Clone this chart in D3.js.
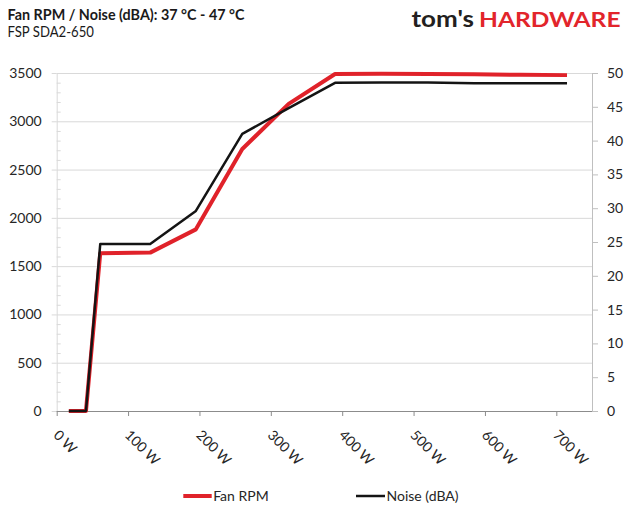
<!DOCTYPE html>
<html>
<head>
<meta charset="utf-8">
<script src="https://cdn.jsdelivr.net/npm/d3@7/dist/d3.min.js"></script>
<style>
  html, body { margin: 0; padding: 0; background: #fff; }
  svg { display: block; }
  text { font-family: Lato, "Open Sans", sans-serif; }
</style>
</head>
<body>
<svg id="chart" width="631" height="511"></svg>
<script>
const title = "Fan RPM / Noise (dBA): 37 °C - 47 °C";
const subtitle = "FSP SDA2-650";
const seriesNames = ["Fan RPM", "Noise (dBA)"];
const loadW = [17, 41, 61, 131, 195, 260, 325, 390, 455, 520, 585, 650, 715];
const fanRPM = [0, 0, 1633, 1640, 1881, 2713, 3180, 3490, 3492, 3490, 3486, 3482, 3478];
const noiseDBA = [0, 0, 24.7, 24.7, 29.6, 41.0, 44.8, 48.55, 48.6, 48.6, 48.5, 48.5, 48.5];
const xTicks = [0, 100, 200, 300, 400, 500, 600, 700];
const xTickLabels = ["0 W", "100 W", "200 W", "300 W", "400 W", "500 W", "600 W", "700 W"];
const yLeftTicks = [0, 500, 1000, 1500, 2000, 2500, 3000, 3500];
const yRightTicks = [0, 5, 10, 15, 20, 25, 30, 35, 40, 45, 50];

const svg = d3.select("#chart");
const L = 56.7, R = 592, T = 73, B = 411;
const x = d3.scaleLinear().domain([0, 750]).range([L, R]);
const yL = d3.scaleLinear().domain([0, 3500]).range([B, T]);
const yR = d3.scaleLinear().domain([0, 50]).range([B, T]);

// gridlines
svg.append("g")
  .attr("transform", `translate(${L},0)`)
  .call(d3.axisLeft(yL).tickValues(yLeftTicks.filter(d => d > 0)).tickSize(-(R - L)).tickFormat(""))
  .call(g => g.select(".domain").remove())
  .call(g => g.selectAll("line").attr("stroke", "#d9d9d9").attr("stroke-width", 1));

// left minor ticks (inside)
svg.append("g")
  .attr("transform", `translate(${L},0)`)
  .call(d3.axisLeft(yL).tickValues(d3.range(100, 3500, 100).filter(d => d % 500 !== 0)).tickSize(-4).tickFormat(""))
  .call(g => g.select(".domain").remove())
  .call(g => g.selectAll("line").attr("stroke", "#d9d9d9"));

// left axis
svg.append("g")
  .attr("transform", `translate(${L},0)`)
  .call(d3.axisLeft(yL).tickValues(yLeftTicks).tickSize(5).tickSizeOuter(0).tickPadding(10).tickFormat(d3.format("d")))
  .call(g => g.select(".domain").attr("stroke", "#d9d9d9"))
  .call(g => g.selectAll("line").attr("stroke", "#d9d9d9"))
  .call(g => g.selectAll("text").attr("font-size", 14).attr("fill", "#262626").attr("font-family", "Lato, sans-serif"));

// right axis
svg.append("g")
  .attr("transform", `translate(${R},0)`)
  .call(d3.axisRight(yR).tickValues(yRightTicks).tickSize(6).tickSizeOuter(0).tickPadding(9))
  .call(g => g.select(".domain").attr("stroke", "#bfbfbf"))
  .call(g => g.selectAll("line").attr("stroke", "#bfbfbf"))
  .call(g => g.selectAll("text").attr("font-size", 14).attr("fill", "#262626").attr("font-family", "Lato, sans-serif"));

// bottom axis
const xAxis = svg.append("g")
  .attr("transform", `translate(0,${B})`)
  .call(d3.axisBottom(x).tickValues(xTicks).tickSize(5).tickSizeOuter(0).tickFormat((d, i) => xTickLabels[i]))
  .call(g => g.select(".domain").attr("stroke", "#8c8c8c").attr("d", `M${L},0.5H${R}`))
  .call(g => g.selectAll("line").attr("stroke", "#8c8c8c"));
xAxis.selectAll("text")
  .attr("font-size", 14).attr("fill", "#262626").attr("font-family", "Lato, sans-serif")
  .attr("text-anchor", "start")
  .attr("y", 0).attr("dy", 0)
  .attr("transform", "translate(-4.5,25) rotate(45)");

// lines
const pts = (ys) => loadW.map((w, i) => [w, ys[i]]);
const lineL = d3.line().x(d => x(d[0])).y(d => yL(d[1]));
const lineR = d3.line().x(d => x(d[0])).y(d => yR(d[1]));

svg.append("path").datum(pts(fanRPM)).attr("d", lineL)
  .attr("fill", "none").attr("stroke", "#e0222a").attr("stroke-width", 4).attr("stroke-linejoin", "round");
svg.append("path").datum(pts(noiseDBA)).attr("d", lineR)
  .attr("fill", "none").attr("stroke", "#141414").attr("stroke-width", 2.5).attr("stroke-linejoin", "round");

// titles
svg.append("text").attr("x", 7.5).attr("y", 19.5).text(title)
  .attr("font-size", 16).attr("font-weight", 700).attr("fill", "#1a1a1a")
  .attr("textLength", 237).attr("lengthAdjust", "spacingAndGlyphs");
svg.append("text").attr("x", 7.5).attr("y", 37).text(subtitle)
  .attr("font-size", 15).attr("fill", "#1a1a1a")
  .attr("textLength", 86.5).attr("lengthAdjust", "spacingAndGlyphs");

// logo
svg.append("text").attr("x", 411.5).attr("y", 27.3).text("tom's")
  .attr("font-family", "Roboto, sans-serif").attr("font-weight", 700).attr("font-size", 22).attr("fill", "#231f20")
  .attr("textLength", 62.5).attr("lengthAdjust", "spacingAndGlyphs");
svg.append("text").attr("x", 479).attr("y", 27.3).text("HARDWARE")
  .attr("font-family", "Roboto, sans-serif").attr("font-weight", 700).attr("font-size", 21).attr("fill", "#e2252b")
  .attr("textLength", 141.5).attr("lengthAdjust", "spacingAndGlyphs");

// legend
const legend = [
  { name: seriesNames[0], color: "#e0222a", w: 4, x1: 183.3, x2: 211.7 },
  { name: seriesNames[1], color: "#141414", w: 2.5, x1: 356, x2: 385 }
];
const lg = svg.append("g");
legend.forEach(d => {
  lg.append("line").attr("x1", d.x1).attr("x2", d.x2).attr("y1", 496).attr("y2", 496)
    .attr("stroke", d.color).attr("stroke-width", d.w);
  lg.append("text").attr("x", d.x2 + 1.5).attr("y", 501).text(d.name)
    .attr("font-size", 14).attr("fill", "#262626");
});
</script>
</body>
</html>
